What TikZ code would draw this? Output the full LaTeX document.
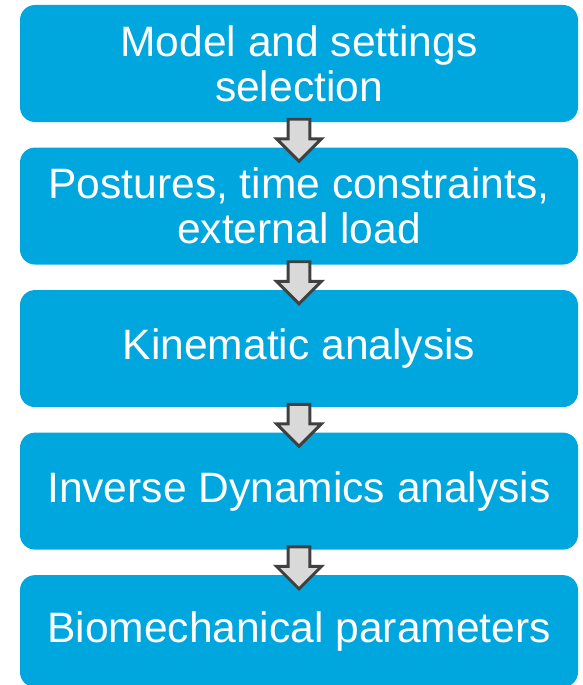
\documentclass[tikz,border=0pt]{standalone}
\usepackage{fontspec}
\setmainfont{Liberation Sans}
\usetikzlibrary{calc,positioning}
\usetikzlibrary{shapes,arrows}

\definecolor{stepblue}{RGB}{0,167,222}
\definecolor{arrowfill}{RGB}{217,217,217}
\definecolor{arrowline}{RGB}{64,64,64}

\tikzset{
  stepbox/.style={rectangle, rounded corners=11.25pt, fill=stepblue, text=white,
    minimum width=418.5pt, minimum height=87.75pt, align=center, inner sep=0pt,
    font=\fontsize{31.9}{33.75}\selectfont},
  downarrow/.style={single arrow, draw=arrowline, fill=arrowfill, line width=2.2pt,
    shape border rotate=270, inner sep=7.1pt, single arrow head extend=8.6pt,
    single arrow head indent=0pt, minimum height=31.5pt, minimum width=31.5pt}
}

\begin{document}
\begin{tikzpicture}[x=0.75pt,y=-0.75pt,node distance=18.75pt]
\useasboundingbox (0,0) rectangle (582,685);

\node [stepbox] (model) at (299,63.5) {Model and settings\\selection};
\node [stepbox, below=of model] (postures) {Postures, time constraints,\\external load};
\node [stepbox, below=of postures] (kinematic) {Kinematic analysis};
\node [stepbox, below=of kinematic] (inverse) {Inverse Dynamics analysis};
\node [stepbox, below=of inverse, minimum height=84pt] (biomech) {Biomechanical parameters};

% arrows between the steps
\node [downarrow] at ($(model.south)!0.5!(postures.north)$) {};
\node [downarrow] at ($(postures.south)!0.5!(kinematic.north)$) {};
\node [downarrow] at ($(kinematic.south)!0.5!(inverse.north)$) {};
\node [downarrow] at ($(inverse.south)!0.5!(biomech.north)$) {};

\end{tikzpicture}
\end{document}
